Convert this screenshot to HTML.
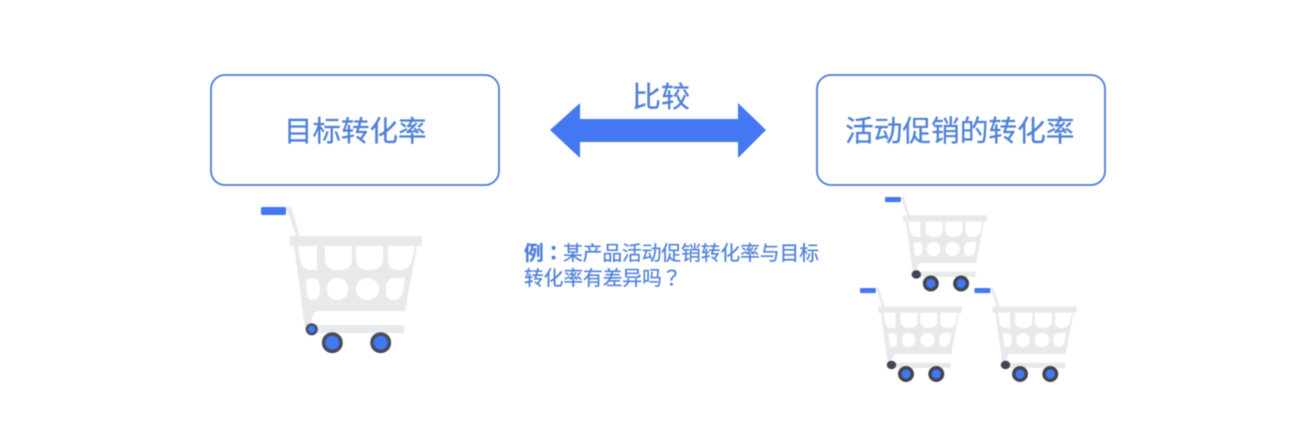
<!DOCTYPE html>
<html><head><meta charset="utf-8"><style>
html,body{margin:0;padding:0;background:#fff}
body{width:1304px;height:434px;overflow:hidden;position:relative}
svg{position:absolute;left:0;top:0;filter:blur(.4px)}
text{font-family:"Liberation Sans","Noto Sans CJK SC",sans-serif;fill:#4f80d8;stroke:#4f80d8;stroke-width:.25px}
.tc{font-family:"Noto Sans CJK TC",sans-serif}
</style></head><body>
<svg width="1304" height="434" viewBox="0 0 1304 434" xmlns="http://www.w3.org/2000/svg">
<defs>
<g id="cart">
<path d="M286 207H291L300 236H296Z" fill="#e8e9eb"/>
<rect x="289.500" y="236" width="132.500" height="10" fill="#e8e9eb"/>
<path d="M294 246H417L405 311H318Q312 311 311 325H404V333H312L305 328Z" fill="#e8e9eb"/>
<g fill="#fff">
<path d="M298 246H317V270H310Q301 270 300 258Z"/>
<path d="M325 246H352V262Q350 270 338 270Q326 270 325 260Z"/>
<path d="M356 246H383V260Q382 270 369 270Q357 270 356 260Z"/>
<path d="M388 246H415L412 260Q410 270 398 270Q389 270 388 262Z"/>
<path d="M306 280Q307 278 313 278Q320 279 320 288L319 296Q317 300 311 300Q308 300 307 292Z"/>
<rect x="327" y="278" width="21" height="22" rx="10"/>
<rect x="356" y="278" width="23" height="22" rx="11"/>
<path d="M386 284Q388 278 396 278H405L403 292Q401 300 393 300Q386 300 386 292Z"/>
</g>
<rect x="261" y="207" width="25" height="8" rx="1.500" fill="#4477f2"/>
</g>
<g id="wheels">
<ellipse cx="0" cy="-9" rx="4.700" ry="4.200" fill="#42454f"/>
<circle cx="14.500" cy="0" r="6.300" fill="#4477f2" stroke="#42454f" stroke-width="3.400"/>
<circle cx="44.800" cy="0" r="6.300" fill="#4477f2" stroke="#42454f" stroke-width="3.400"/>
</g>
</defs>
<rect x="211" y="75" width="288" height="110" rx="14" fill="#fff" stroke="#4b7cd8" stroke-width="1.800"/>
<rect x="817" y="75" width="288" height="110" rx="14" fill="#fff" stroke="#4b7cd8" stroke-width="1.800"/>
<text x="284" y="141" font-size="28.500">目标转化率</text>
<text x="845" y="141" font-size="28.700">活动促销的转化率</text>
<text x="632" y="107" font-size="29">比较</text>
<path d="M550 130L580 103V119H738V103L766 130L738 158V142H580V158Z" fill="#4477f2"/>
<text x="524" y="260" font-size="19.700" font-weight="700">例<tspan class="tc" font-weight="700">：</tspan></text>
<text x="563" y="260" font-size="19.700">某产品活动促销转化率与目标</text>
<text x="524" y="285" font-size="19.700">转化率有差异吗<tspan class="tc">？</tspan></text>
<use href="#cart"/>
<circle cx="311.700" cy="329.300" r="4.800" fill="#4477f2" stroke="#474c5c" stroke-width="2.500"/>
<circle cx="332.300" cy="342.700" r="8.700" fill="#4477f2" stroke="#474c5c" stroke-width="3.500"/>
<circle cx="380.700" cy="342.700" r="8.700" fill="#4477f2" stroke="#474c5c" stroke-width="3.500"/>
<use href="#cart" transform="translate(885 197) scale(.634) translate(-261 -207)"/>
<use href="#cart" transform="translate(860 288) scale(.634) translate(-261 -207)"/>
<use href="#cart" transform="translate(974.500 288) scale(.634) translate(-261 -207)"/>
<use href="#wheels" transform="translate(916.300 283.500)"/>
<use href="#wheels" transform="translate(891.500 374)"/>
<use href="#wheels" transform="translate(1005.500 374)"/>
</svg>
</body></html>
